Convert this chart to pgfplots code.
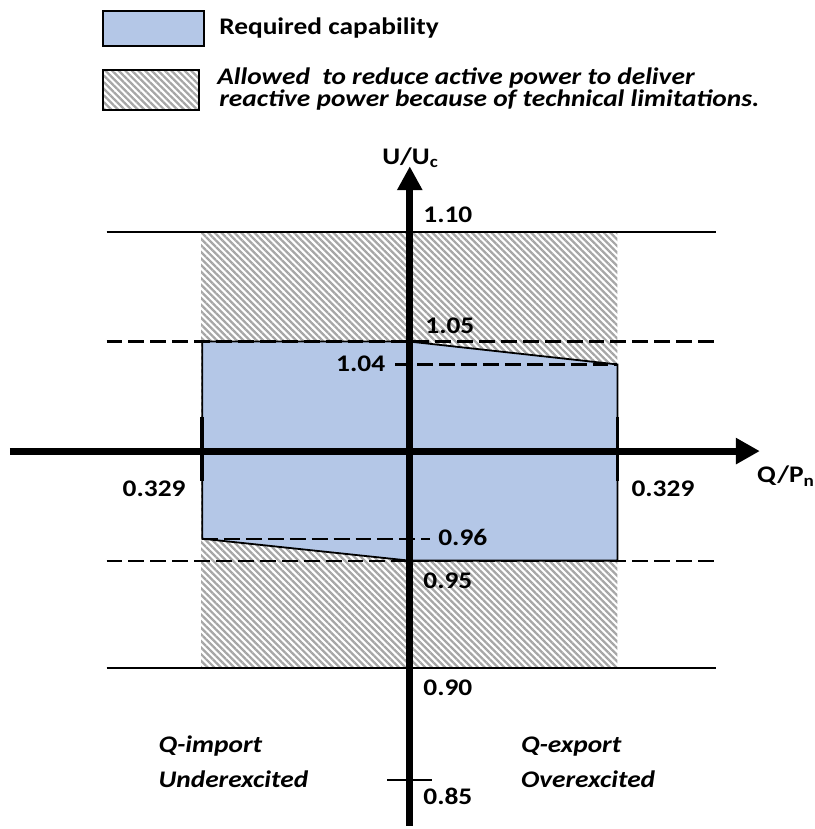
\documentclass[border=0pt]{standalone}
\usepackage{fontspec}
\setmainfont[FakeStretch=1.15]{Carlito}
\usepackage{pgfplots}
\pgfplotsset{compat=1.18}
\usetikzlibrary{arrows.meta,patterns.meta}
\definecolor{capblue}{HTML}{B4C7E7}
\definecolor{hatchgray}{HTML}{A6A6A6}
\tikzset{
  lab/.style={font=\bfseries\fontsize{24}{29}\selectfont, inner sep=0pt},
  ilab/.style={font=\bfseries\itshape\fontsize{24}{29}\selectfont, inner sep=0pt},
  hatch/.style={pattern={Lines[angle=-45,distance=4.7pt,line width=2.3pt]}, pattern color=hatchgray},
  dsh/.style={black, line width=2.2bp, dash pattern=on 16bp off 6bp},
  sol/.style={black, line width=2.2bp},
}
\begin{document}
\begin{tikzpicture}
\begin{axis}[scale only axis, width=816bp, height=829bp,
  xmin=0, xmax=816, ymin=-829, ymax=0, hide axis, clip=false]
\path (axis cs:0,0) rectangle (axis cs:816,-829);
% allowed region (hatched)
\addplot[draw=none, hatch] coordinates {(202,-233)(620,-233)(620,-671)(202,-671)} -- cycle;
% required capability
\addplot[fill=capblue, draw=black, line width=1.8bp] coordinates {(203,-343)(411,-343)(620,-366)(620,-563)(411,-563)(203,-541)} -- cycle;
% voltage limits
\addplot[sol] coordinates {(107,-233)(719,-233)};
\addplot[sol] coordinates {(107,-671)(719,-671)};
\addplot[dsh] coordinates {(107,-343)(719,-343)};
\addplot[dsh] coordinates {(107,-563)(719,-563)};
\addplot[dsh] coordinates {(397,-366)(620,-366)};
\addplot[dsh] coordinates {(203,-541)(432,-541)};
% axes
\draw[line width=7bp, -{Triangle[length=24bp,width=25bp]}] (axis cs:10,-453) -- (axis cs:763,-453);
\draw[line width=7bp, -{Triangle[length=24bp,width=24bp]}] (axis cs:411.5,-829) -- (axis cs:411.5,-167);
% ticks
\addplot[black, line width=3.5bp] coordinates {(203,-419)(203,-483)};
\addplot[black, line width=3.5bp] coordinates {(620,-419)(620,-483)};
\addplot[sol] coordinates {(389,-783)(434,-783)};
% labels
\node[lab, anchor=base] at (axis cs:412,-165) {U/U\textsubscript{c}};
\node[lab, anchor=base west] at (axis cs:760,-485) {Q/P\textsubscript{n}};
\node[lab, anchor=base west] at (axis cs:425,-223) {1.10};
\node[lab, anchor=base west] at (axis cs:427,-335) {1.05};
\node[lab, anchor=base east] at (axis cs:387,-373) {1.04};
\node[lab, anchor=base west] at (axis cs:440,-548) {0.96};
\node[lab, anchor=base west] at (axis cs:425,-591) {0.95};
\node[lab, anchor=base west] at (axis cs:425,-698) {0.90};
\node[lab, anchor=base west] at (axis cs:425,-808) {0.85};
\node[lab, anchor=base west] at (axis cs:123,-499) {0.329};
\node[lab, anchor=base west] at (axis cs:634,-499) {0.329};
\node[ilab, anchor=base west] at (axis cs:159,-756) {Q-import};
\node[ilab, anchor=base west] at (axis cs:159,-791) {Underexcited};
\node[ilab, anchor=base west] at (axis cs:523,-756) {Q-export};
\node[ilab, anchor=base west] at (axis cs:523,-791) {Overexcited};
% legend
\draw[fill=capblue, draw=black, line width=2bp] (axis cs:103,-11) rectangle (axis cs:205,-46);
\draw[hatch] (axis cs:103,-70) rectangle (axis cs:200,-110);
\draw[black, line width=2bp] (axis cs:103,-70) rectangle (axis cs:200,-110);
\node[lab, anchor=base west] at (axis cs:220,-35) {Required capability};
\node[ilab, anchor=base west] at (axis cs:218,-85) {Allowed\ \ to reduce active power to deliver};
\node[ilab, anchor=base west] at (axis cs:220,-107) {reactive power because of technical limitations.};
\end{axis}
\end{tikzpicture}
\end{document}
